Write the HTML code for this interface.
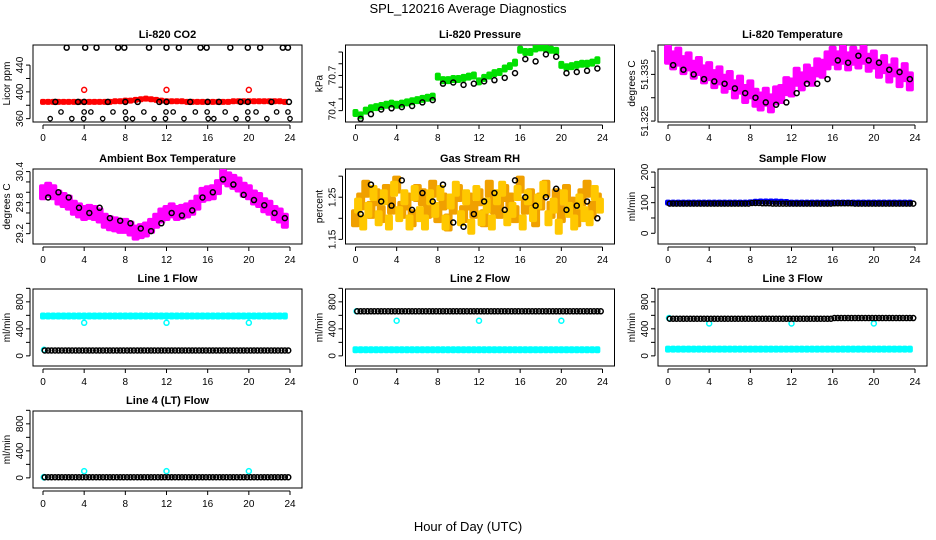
<!DOCTYPE html>
<html><head><meta charset="utf-8"><style>
html,body{margin:0;padding:0;background:#fff}
svg{display:block;font-family:"Liberation Sans",Helvetica,Arial,sans-serif}
</style></head><body>
<svg id="c" width="936" height="540" viewBox="0 0 936 540">
<text x="468" y="13" text-anchor="middle" font-size="13">SPL_120216  Average Diagnostics</text>
<text x="468" y="531" text-anchor="middle" font-size="13">Hour of Day (UTC)</text>
</svg>
<script>
const hourTicks=[0,4,8,12,16,20,24];
const co2Red=[385,385,385,385,385,385,385,385,385,385,385,385,385,385,386,386,387,387,388,389,390,389,388,387,386,386,386,386,385,385,385,385,385,385,385,385,385,386,386,386,386,386,386,386,386,386,386,385];
const co2RedOutH=[4,12,20];const co2RedOutV=[403,403,403];
const co2TopH=[2.3,4.1,5.2,7.3,7.9,10.3,12.0,13.2,15.3,15.9,18.2,19.9,21.1,23.3,23.8];
const co2MidH=[1.2,3.4,4.0,6.3,8.0,9.2,11.3,12.0,14.3,16.0,17.1,19.2,19.9,22.2,23.9];
const co2LowH=[1.75,4.0,4.65,6.8,8.0,9.8,11.95,12.65,14.8,15.95,17.7,19.9,20.7,22.7,23.8];
const co2BotH=[0.7,2.8,3.95,5.8,8.05,8.7,10.8,11.9,13.7,16.05,16.6,18.75,19.9,21.75,24.0];
const co2Levels=[466,385,370,360];
const presGreen=[70.38,70.36,70.40,70.42,70.43,70.44,70.45,70.46,70.45,70.46,70.47,70.48,70.49,70.50,70.51,70.52,70.69,70.66,70.66,70.67,70.67,70.68,70.69,70.70,70.65,70.68,70.70,70.72,70.73,70.76,70.78,70.81,70.92,70.90,70.90,70.93,70.94,70.93,70.92,70.91,70.79,70.77,70.78,70.79,70.80,70.80,70.81,70.83];
const presBlack=[70.33,70.37,70.41,70.42,70.43,70.44,70.47,70.49,70.63,70.64,70.62,70.63,70.65,70.66,70.68,70.72,70.84,70.82,70.88,70.86,70.72,70.73,70.74,70.76];
const liTempMag=[51.3392,51.3380,51.3388,51.3370,51.3378,51.3360,51.3368,51.3350,51.3357,51.3340,51.3348,51.3330,51.3338,51.3318,51.3328,51.3308,51.3318,51.3300,51.3292,51.3302,51.3288,51.3305,51.3308,51.3325,51.3322,51.3345,51.3335,51.3352,51.3345,51.3365,51.3362,51.3380,51.3390,51.3380,51.3392,51.3378,51.3390,51.3382,51.3392,51.3375,51.3382,51.3362,51.3372,51.3352,51.3365,51.3342,51.3355,51.3335];
const liTempBlack=[51.337,51.336,51.335,51.334,51.3335,51.333,51.332,51.331,51.330,51.329,51.3285,51.329,51.331,51.333,51.333,51.334,51.338,51.3375,51.339,51.338,51.3375,51.336,51.3355,51.334];
const ambMag=[30.0,30.05,30.0,29.9,29.85,29.8,29.7,29.65,29.6,29.62,29.6,29.55,29.45,29.4,29.38,29.35,29.35,29.3,29.22,29.25,29.28,29.35,29.45,29.55,29.6,29.65,29.6,29.62,29.65,29.7,29.8,29.95,29.98,30.0,30.1,30.3,30.25,30.2,30.15,30.05,30.0,29.9,29.85,29.75,29.7,29.6,29.55,29.45];
const ambBlack=[29.9,30.0,29.9,29.7,29.6,29.7,29.5,29.45,29.4,29.3,29.25,29.4,29.6,29.55,29.65,29.9,30.0,30.25,30.15,29.95,29.85,29.75,29.6,29.5];
const rhA=[1.20,1.24,1.27,1.22,1.25,1.21,1.26,1.23,1.28,1.22,1.24,1.20,1.26,1.25,1.22,1.27,1.21,1.24,1.19,1.23,1.26,1.21,1.24,1.22,1.25,1.20,1.27,1.23,1.22,1.26,1.24,1.21,1.28,1.23,1.25,1.20,1.24,1.27,1.22,1.25,1.21,1.26,1.23,1.20,1.25,1.27,1.22,1.24];
const rhB=[1.23,1.19,1.22,1.26,1.20,1.25,1.19,1.27,1.21,1.25,1.19,1.26,1.21,1.19,1.25,1.22,1.26,1.19,1.24,1.27,1.20,1.25,1.18,1.26,1.20,1.23,1.19,1.25,1.27,1.20,1.22,1.26,1.19,1.25,1.21,1.24,1.27,1.20,1.23,1.18,1.25,1.22,1.19,1.24,1.21,1.20,1.26,1.23];
const rhBlack=[1.21,1.28,1.24,1.23,1.29,1.22,1.26,1.24,1.28,1.19,1.18,1.21,1.24,1.26,1.22,1.29,1.25,1.23,1.25,1.27,1.22,1.23,1.24,1.20];
const sampleBlue=[100,100,100,100,100,100,100,100,100,100,100,100,100,100,100,100,101,103,104,104,104,104,103,102,100,100,100,100,100,100,100,100,100,100,100,100,100,100,100,100,100,100,100,100,100,100,100,100];
const sampleBlack=[97,97,97,97,97,97,97,97,99,98,97,97,97,97,97,97,98,98,97,97,97,97,97,97];
const l1CyanHi=[590,590,590,590,590,590,590,590,590,590,590,590,590,590,590,590,590,590,590,590,590,590,590,590,590,590,590,590,590,590,590,590,590,590,590,590,590,590,590,590,590,590,590,590,590,590,590,590];
const l1CyanOut=[490,490,490];
const l1Black=[80,80,80,80,80,80,80,80,80,80,80,80,80,80,80,80,80,80,80,80,80,80,80,80];
const l2Black=[660,660,660,660,660,660,660,660,660,660,660,660,660,660,660,660,660,660,660,660,660,660,660,660];
const l2CyanLo=[90,90,90,90,90,90,90,90,90,90,90,90,90,90,90,90,90,90,90,90,90,90,90,90,90,90,90,90,90,90,90,90,90,90,90,90,90,90,90,90,90,90,90,90,90,90,90,90];
const l2CyanOut=[520,520,520];
const l3Black=[550,550,550,550,550,550,550,550,550,550,550,550,550,550,550,550,560,560,560,560,560,560,560,560];
const l3CyanLo=[100,100,100,100,100,100,100,100,100,100,100,100,100,100,100,100,100,100,100,100,100,100,100,100,100,100,100,100,100,100,100,100,100,100,100,100,100,100,100,100,100,100,100,100,100,100,100,100];
const l3CyanOut=[480,480,480];
const l4Black=[10,10,10,10,10,10,10,10,10,10,10,10,10,10,10,10,10,10,10,10,10,10,10,10];
const l4CyanOut=[100,100,100];
const outH=[4,12,20];

const svg=document.getElementById('c');
const NS='http://www.w3.org/2000/svg';
function mk(tag,attrs,parent){const e=document.createElementNS(NS,tag);for(const k in attrs)e.setAttribute(k,attrs[k]);(parent||svg).appendChild(e);return e;}
const halfH=[];for(let i=0;i<48;i++)halfH.push(i*0.5);
const hourH=[];for(let i=0;i<24;i++)hourH.push(i+0.5);

function panel(col,row,title,ylab,ymin,ymax,ticks,labels,name){
  const x0=43+312.5*col, x24=x0+247;
  const top=45+122*row+(row==1?2:0), bot=122+122*row;
  const left=x0-10,right=x24+12;
  const g=mk('g',{});
  
  
  const X=h=>x0+h*(x24-x0)/24;
  const Y=v=>bot-(v-ymin)/(ymax-ymin)*(bot-top);
  const b=mk('rect',{x:left,y:top,width:right-left,height:bot-top,fill:'none',stroke:'#000','stroke-width':1},g);
  
  const t=mk('text',{x:(left+right)/2,y:top-7,'text-anchor':'middle','font-size':11,'font-weight':'bold'},g);t.textContent=title;
  
  const ax=mk('g',{},g);
  mk('line',{x1:X(0),x2:X(24),y1:bot+3,y2:bot+3,stroke:'#000'},ax);
  hourTicks.forEach(h=>{mk('line',{x1:X(h),x2:X(h),y1:bot+3,y2:bot+7,stroke:'#000'},ax);
    const l=mk('text',{x:X(h),y:bot+19,'text-anchor':'middle','font-size':10},ax);l.textContent=h;});
  const ay=mk('g',{},g);
  mk('line',{x1:left-3,x2:left-3,y1:Y(ticks[0]),y2:Y(ticks[ticks.length-1]),stroke:'#000'},ay);
  ticks.forEach(v=>{mk('line',{x1:left-3,x2:left-7,y1:Y(v),y2:Y(v),stroke:'#000'},ay);});
  labels.forEach(v=>{const l=mk('text',{x:0,y:0,'text-anchor':'middle','font-size':10,transform:`translate(${left-10},${Y(v)}) rotate(-90)`},ay);l.textContent=v;});
  const yl=mk('text',{x:0,y:0,'text-anchor':'middle','font-size':10,transform:`translate(${left-23},${(top+bot)/2}) rotate(-90)`},g);yl.textContent=ylab;
  
  const clip='cl'+col+row;
  const cp=mk('clipPath',{id:clip},g);mk('rect',{x:left,y:top,width:right-left,height:bot-top},cp);
  const pg=mk('g',{'clip-path':`url(#${clip})`},g);
  return {X,Y,g:pg};
}
function circ(p,hs,vs,color,r,sw,nm){const s=mk('g',{},p.g);
  hs.forEach((h,i)=>{mk('circle',{cx:p.X(h),cy:p.Y(vs[i]),r:r,fill:'none',stroke:color,'stroke-width':sw},s);});}
// dense marker chain: each value drawn as a short run of overlapping circles across its hour
function chain(p,hs,vs,color,r,sw,nm){const s=mk('g',{},p.g);
  hs.forEach((h,i)=>{[-0.33,0,0.33].forEach(d=>{mk('circle',{cx:p.X(h+d),cy:p.Y(vs[i]),r:r,fill:'none',stroke:color,'stroke-width':sw},s);});});}
function band(p,hs,vs,color,w,hgt,nm){const s=mk('g',{},p.g);
  hs.forEach((h,i)=>{mk('rect',{x:p.X(h)-w/2,y:p.Y(vs[i])-hgt/2,width:w,height:hgt,rx:2,fill:color},s);});}
function constArr(arr,v){return arr.map(()=>v);}

let p;
p=panel(0,0,'Li-820 CO2','Licor ppm',355,470,[360,380,400,420,440],[360,400,440],'panel-co2');
band(p,halfH,co2Red,'#f00',6,6,'series-co2-red');
circ(p,co2RedOutH,co2RedOutV,'#f00',2.5,1.5,'series-co2-red-outliers');
circ(p,co2TopH,constArr(co2TopH,co2Levels[0]),'#000',2.5,1.5,'series-co2-black-top');
circ(p,co2MidH,constArr(co2MidH,co2Levels[1]),'#000',2.5,1.5,'series-co2-black-mid');
circ(p,co2LowH,constArr(co2LowH,co2Levels[2]),'#000',2.2,1.3,'series-co2-black-low');
circ(p,co2BotH,constArr(co2BotH,co2Levels[3]),'#000',2.2,1.3,'series-co2-black-bottom');

p=panel(1,0,'Li-820 Pressure','kPa',70.303,70.96,[70.4,70.5,70.6,70.7,70.8,70.9],[70.4,70.7],'panel-pressure');
band(p,halfH,presGreen,'#00e000',6,8,'series-pressure-green');
circ(p,hourH,presBlack,'#000',2.5,1.5,'series-pressure-black');

p=panel(2,0,'Li-820 Temperature','degrees C',51.3248,51.3413,[51.325,51.330,51.335,51.340],[51.325,51.335],'panel-li-temp');
band(p,halfH,liTempMag,'#f0f',8,20,'series-li-temp-magenta');
circ(p,hourH,liTempBlack,'#000',2.5,1.5,'series-li-temp-black');

p=panel(0,1,'Ambient Box Temperature','degrees C',29.0,30.45,[29.2,29.4,29.6,29.8,30.0,30.2,30.4],[29.2,29.8,30.4],'panel-ambient-temp');
band(p,halfH,ambMag,'#f0f',8,16,'series-ambient-magenta');
circ(p,hourH,ambBlack,'#000',2.5,1.5,'series-ambient-black');

p=panel(1,1,'Gas Stream RH','percent',1.139,1.317,[1.15,1.20,1.25,1.30],[1.15,1.25],'panel-rh');
band(p,halfH,rhA,'#f0a000',9,18,'series-rh-orange-a');
band(p,halfH.map(h=>h+0.25),rhB,'#ffc800',8,16,'series-rh-orange-b');
circ(p,hourH,rhBlack,'#000',2.5,1.5,'series-rh-black');

p=panel(2,1,'Sample Flow','ml/min',-35,210,[0,50,100,150,200],[0,100,200],'panel-sample-flow');
band(p,halfH,sampleBlue,'#00f',6,6,'series-sample-blue');
chain(p,hourH,sampleBlack,'#000',2.5,1.5,'series-sample-black');

const flowTicks=[0,200,400,600,800,1000],flowLabels=[0,400,800];
p=panel(0,2,'Line 1 Flow','ml/min',-150,990,flowTicks,flowLabels,'panel-line1-flow');
band(p,halfH,l1CyanHi,'#0ff',6,7,'series-line1-cyan');
circ(p,outH,l1CyanOut,'#0ff',2.5,1.5,'series-line1-cyan-outliers');
circ(p,[0.1],[90],'#0ff',2.5,1.5,'series-line1-cyan-start');
chain(p,hourH,l1Black,'#000',2.5,1.5,'series-line1-black');

p=panel(1,2,'Line 2 Flow','ml/min',-150,990,flowTicks,flowLabels,'panel-line2-flow');
band(p,halfH,l2CyanLo,'#0ff',6,7,'series-line2-cyan');
circ(p,outH,l2CyanOut,'#0ff',2.5,1.5,'series-line2-cyan-outliers');
circ(p,[0.1],[660],'#0ff',2.5,1.5,'series-line2-cyan-start');
chain(p,hourH,l2Black,'#000',2.5,1.5,'series-line2-black');

p=panel(2,2,'Line 3 Flow','ml/min',-150,990,flowTicks,flowLabels,'panel-line3-flow');
band(p,halfH,l3CyanLo,'#0ff',6,7,'series-line3-cyan');
circ(p,outH,l3CyanOut,'#0ff',2.5,1.5,'series-line3-cyan-outliers');
circ(p,[0.1],[560],'#0ff',2.5,1.5,'series-line3-cyan-start');
chain(p,hourH,l3Black,'#000',2.5,1.5,'series-line3-black');

p=panel(0,3,'Line 4 (LT) Flow','ml/min',-150,990,flowTicks,flowLabels,'panel-line4-flow');
circ(p,[0.1],[10],'#0ff',2.5,2,'series-line4-cyan-start');
circ(p,outH,l4CyanOut,'#0ff',2.5,1.5,'series-line4-cyan-outliers');
chain(p,hourH,l4Black,'#000',2.5,1.5,'series-line4-black');
</script>
</body></html>
